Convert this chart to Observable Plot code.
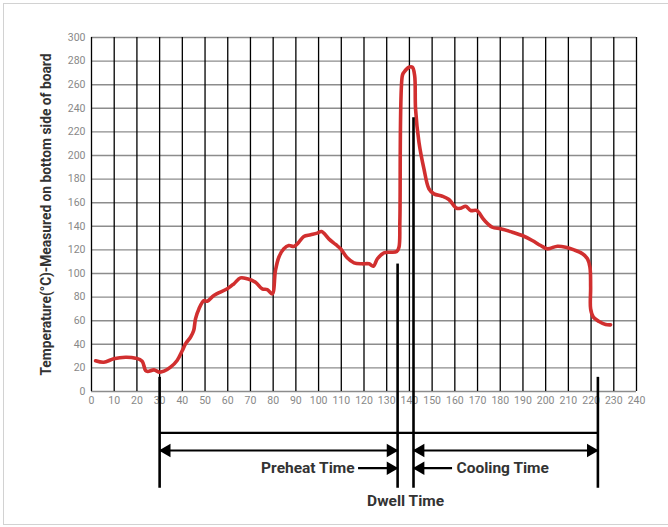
<!DOCTYPE html>
<html>
<head>
<meta charset="utf-8">
<script src="https://cdn.jsdelivr.net/npm/d3@7"></script>
<script src="https://cdn.jsdelivr.net/npm/@observablehq/plot@0.6"></script>
<style>
  html, body { margin: 0; padding: 0; background: #fff; }
  #wrap { position: relative; width: 668px; height: 527px; overflow: hidden; }
  #frame { position: absolute; left: 3px; top: 3px; width: 670px; height: 522px;
           border: 1.5px solid #d2d2d2; box-sizing: border-box; }
  #chart { position: absolute; left: 0; top: 0; }
</style>
</head>
<body>
<div id="wrap"><div id="frame"></div><div id="chart"></div></div>
<script>
// ---- data ----
const time = [1.8,5.4,9.8,15,19.4,22.3,23.8,24.8,27.5,30,31.9,34.8,37.7,40,41.4,43.6,45,45.8,47.3,49.5,51,53.9,59.8,62.7,65.6,68.6,72.2,75.2,77.4,79.6,81,82.5,84.7,86.9,89.1,91.3,93.5,96.5,99.4,101.3,104.5,107.5,109.7,112.6,115.6,119.2,122.2,124.1,125.9,128.8,131.7,134.4,135.4,135.8,136.9,137.6,139.8,141.3,142.3,142.7,144.2,146.4,148.6,150.8,154.5,157.4,160.8,162.6,164.8,167,169.6,172.8,176.5,180.2,185.3,189.7,194.1,197.8,200.7,202.2,205.2,208.8,212.5,216.2,218.4,219.5,219.8,219.8,221,223.5,226.4,228.6];
const temperature = [26,24.8,27.7,29,28.2,25.7,17.8,17,18.3,16.4,17.2,20.6,26.3,34.7,40.4,46,51.7,61.6,70,77,76.5,81.4,87,91.3,96.3,95.5,92.6,87,86.4,82.7,102.5,113.8,121,123.7,122.9,126.5,131.4,132.8,134.2,135.6,129.4,124.6,121,113.3,109,108.2,108.2,106.2,112.5,117.5,118,118.6,122.3,145,267.8,270.6,274.8,274.8,267.8,239.6,211.3,188.7,171.8,167.5,165.5,162.7,155.3,155.3,157,153.4,153.4,145.5,139.2,137.9,135,132.2,128,123.7,120.9,121.5,123.1,122.3,120,116.7,112.5,105.3,88.4,70,63,59.3,56.8,56.5];

const xTicks = d3.range(0, 241, 10);
const yTicks = d3.range(0, 301, 20);
const yTitle = "Temperature(°C)-Measured on bottom side of board";

// phase boundary markers (time, temperature where the marker starts)
const markerTimes = [30, 134.8, 141.8, 223];
const markerTops = [12, 108, 232, 12];
const markerBottom = -82;
const spanLevel = -35;          // long bar under the axis
const arrowLevel = -50;         // double-headed arrows
const labelLevel = -65;         // labels with single arrows
const dwellLevel = -93;

const phaseStart = [30, 141.8];
const phaseEnd = [134.8, 223];
const preheatLabel = "Preheat Time";
const coolingLabel = "Cooling Time";
const dwellLabel = "Dwell Time";
const preheatArrow = [117.6, 134.8];
const coolingArrow = [141.8, 159];

const curve = time.map((t, i) => ({t, v: temperature[i]}));
const markers = markerTimes.map((t, i) => ({t, top: markerTops[i]}));
const doubleArrows = phaseStart.map((s, i) => ({s, e: phaseEnd[i]}));

// arrow heads: [time, direction]
const heads = [
  {t: phaseStart[0], y: arrowLevel, dir: -1},
  {t: phaseEnd[0], y: arrowLevel, dir: 1},
  {t: phaseStart[1], y: arrowLevel, dir: -1},
  {t: phaseEnd[1], y: arrowLevel, dir: 1},
  {t: preheatArrow[1], y: labelLevel, dir: 1},
  {t: coolingArrow[0], y: labelLevel, dir: -1}
];

const font = "Roboto, 'Open Sans', sans-serif";

const chart = Plot.plot({
  width: 668,
  height: 527,
  marginLeft: 91,
  marginRight: 32,
  marginTop: 37,
  marginBottom: 18,
  x: {domain: [0, 240], axis: null},
  y: {domain: [-100, 300], axis: null},
  style: {fontFamily: font, background: "transparent", overflow: "visible"},
  marks: [
    // grid
    Plot.ruleY(yTicks, {x1: 0, x2: 240, stroke: "#8c8c8c", strokeWidth: 1.4}),
    Plot.ruleX(xTicks, {y1: 0, y2: 300, stroke: "#000", strokeWidth: 1.3}),
    // tick labels
    Plot.text(xTicks, {x: d => d, y: 0, dy: 9, text: d => String(d), fill: "#888", fontSize: 10.5, textAnchor: "middle"}),
    Plot.text(yTicks, {x: 0, y: d => d, dx: -6, text: d => String(d), fill: "#888", fontSize: 10.5, textAnchor: "end"}),
    // y title
    Plot.text([yTitle], {x: 0, y: 150, dx: -45, text: d => d, rotate: -90, fill: "#333", fontSize: 13.8, fontWeight: "bold", textAnchor: "middle"}),
    // temperature curve
    Plot.line(curve, {x: "t", y: "v", stroke: "#d12f2f", strokeWidth: 3.6, curve: "catmull-rom", strokeLinejoin: "round", strokeLinecap: "round"}),
    // phase markers
    Plot.ruleX(markers, {x: "t", y1: "top", y2: markerBottom, stroke: "#000", strokeWidth: 2.6}),
    Plot.ruleY([spanLevel], {x1: markerTimes[0], x2: markerTimes[3], stroke: "#000", strokeWidth: 2.2}),
    Plot.ruleY(doubleArrows, {y: arrowLevel, x1: "s", x2: "e", stroke: "#000", strokeWidth: 2.2}),
    Plot.ruleY([labelLevel], {x1: preheatArrow[0], x2: preheatArrow[1], stroke: "#000", strokeWidth: 2.2}),
    Plot.ruleY([labelLevel], {x1: coolingArrow[0], x2: coolingArrow[1], stroke: "#000", strokeWidth: 2.2}),
    Plot.dot(heads.filter(h => h.dir > 0), {x: "t", y: "y", symbol: "triangle", r: 5, fill: "#000", stroke: "none", rotate: 90, dx: -7}),
    Plot.dot(heads.filter(h => h.dir < 0), {x: "t", y: "y", symbol: "triangle", r: 5, fill: "#000", stroke: "none", rotate: -90, dx: 7}),
    // labels
    Plot.text([preheatLabel], {x: preheatArrow[0], y: labelLevel, dx: -4, text: d => d, textAnchor: "end", fill: "#333", fontSize: 15.5, fontWeight: "bold"}),
    Plot.text([coolingLabel], {x: coolingArrow[1], y: labelLevel, dx: 4, text: d => d, textAnchor: "start", fill: "#333", fontSize: 15.5, fontWeight: "bold"}),
    Plot.text([dwellLabel], {x: (markerTimes[1] + markerTimes[2]) / 2, y: dwellLevel, text: d => d, textAnchor: "middle", fill: "#333", fontSize: 15.5, fontWeight: "bold"})
  ]
});
document.getElementById("chart").appendChild(chart);
</script>
</body>
</html>
